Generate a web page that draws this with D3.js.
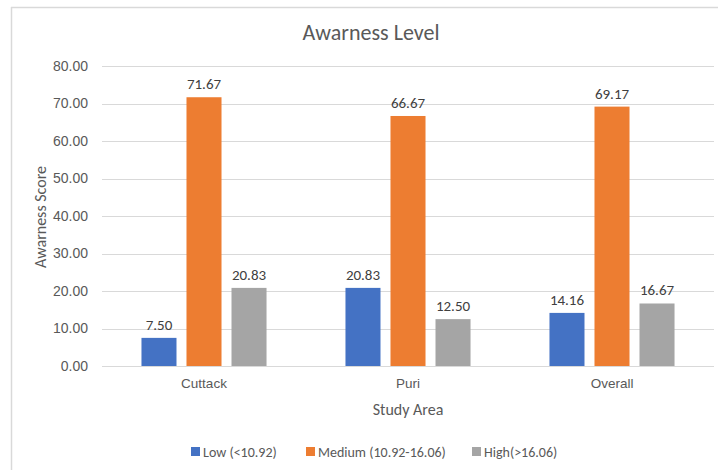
<!DOCTYPE html>
<html>
<head>
<meta charset="utf-8">
<script src="https://cdn.jsdelivr.net/npm/d3@7"></script>
<style>
  body { margin: 0; background: #fff; }
  svg { font-family: Calibri, Carlito, "Open Sans", sans-serif; }
</style>
</head>
<body>
<svg id="chart"></svg>
<script>
// Data
const categories = ['Cuttack', 'Puri', 'Overall'];
const seriesNames = ['Low (<10.92)', 'Medium (10.92-16.06)', 'High(>16.06)'];
const lowValues = [7.50, 20.83, 14.16];
const mediumValues = [71.67, 66.67, 69.17];
const highValues = [20.83, 12.50, 16.67];
const yTicks = [0, 10, 20, 30, 40, 50, 60, 70, 80];
const colors = ['#4472c4', '#ed7d31', '#a5a5a5'];

const width = 718, height = 470;
const margin = { top: 66, right: 4, bottom: 104, left: 102 };
const innerW = width - margin.left - margin.right;
const innerH = height - margin.top - margin.bottom;

const seriesValues = [lowValues, mediumValues, highValues];
const rows = [];
categories.forEach((c, i) => {
  seriesNames.forEach((s, j) => {
    rows.push({ cat: c, series: s, idx: j, value: seriesValues[j][i] });
  });
});

const svg = d3.select('#chart')
  .attr('width', width)
  .attr('height', height);

// outer frame (only top and left edges visible)
svg.append('line')
  .attr('x1', 11).attr('x2', width).attr('y1', 7.5).attr('y2', 7.5)
  .attr('stroke', '#d9d9d9').attr('stroke-width', 1.5);
svg.append('line')
  .attr('x1', 11.5).attr('x2', 11.5).attr('y1', 7).attr('y2', height)
  .attr('stroke', '#d9d9d9').attr('stroke-width', 1.5);

const g = svg.append('g')
  .attr('transform', `translate(${margin.left},${margin.top})`);

const x0 = d3.scaleBand()
  .domain(categories)
  .range([0, innerW])
  .paddingInner(0.387)
  .paddingOuter(0.1935);

const x1 = d3.scaleBand()
  .domain(seriesNames)
  .range([0, x0.bandwidth()])
  .paddingInner(0.222);

const y = d3.scaleLinear()
  .domain([0, 80])
  .range([innerH, 0]);

// gridlines
g.selectAll('.grid')
  .data(yTicks)
  .join('line')
  .attr('class', 'grid')
  .attr('x1', 0).attr('x2', innerW)
  .attr('y1', d => Math.round(y(d)) + 0.5)
  .attr('y2', d => Math.round(y(d)) + 0.5)
  .attr('stroke', '#d9d9d9')
  .attr('stroke-width', 1);

// y axis labels
const yAxis = d3.axisLeft(y)
  .tickValues(yTicks)
  .tickFormat(d3.format('.2f'))
  .tickSize(0)
  .tickPadding(14);
const yAxisG = g.append('g').call(yAxis);
yAxisG.select('.domain').remove();
yAxisG.selectAll('text')
  .attr('fill', '#595959')
  .style('font-size', '14px');

// x axis labels
const xAxis = d3.axisBottom(x0).tickSize(0).tickPadding(12);
const xAxisG = g.append('g')
  .attr('transform', `translate(0,${innerH})`)
  .call(xAxis);
xAxisG.select('.domain').remove();
xAxisG.selectAll('text')
  .attr('fill', '#595959')
  .style('font-size', '13.5px');

// bars
g.selectAll('.bar')
  .data(rows)
  .join('rect')
  .attr('class', 'bar')
  .attr('x', d => x0(d.cat) + x1(d.series))
  .attr('width', x1.bandwidth())
  .attr('y', d => y(d.value))
  .attr('height', d => innerH - y(d.value))
  .attr('fill', d => colors[d.idx]);

// value labels
g.selectAll('.val')
  .data(rows)
  .join('text')
  .attr('class', 'val')
  .attr('x', d => x0(d.cat) + x1(d.series) + x1.bandwidth() / 2)
  .attr('y', d => y(d.value) - 8)
  .attr('text-anchor', 'middle')
  .attr('fill', '#404040')
  .style('font-size', '15px')
  .text(d => d.value.toFixed(2));

// title
svg.append('text')
  .attr('x', 371)
  .attr('y', 40)
  .attr('text-anchor', 'middle')
  .attr('fill', '#595959')
  .style('font-size', '22px')
  .text('Awarness Level');

// axis titles
svg.append('text')
  .attr('x', 408)
  .attr('y', 415)
  .attr('text-anchor', 'middle')
  .attr('fill', '#595959')
  .style('font-size', '16px')
  .text('Study Area');

svg.append('text')
  .attr('transform', 'translate(46,217) rotate(-90)')
  .attr('text-anchor', 'middle')
  .attr('fill', '#595959')
  .style('font-size', '16px')
  .text('Awarness Score');

// legend
const legendX = [191, 306, 472];
const legend = svg.selectAll('.legend')
  .data(seriesNames)
  .join('g')
  .attr('class', 'legend')
  .attr('transform', (d, i) => `translate(${legendX[i]},452)`);
legend.append('rect')
  .attr('x', 0).attr('y', -5)
  .attr('width', 9).attr('height', 9)
  .attr('fill', (d, i) => colors[i]);
legend.append('text')
  .attr('x', 12)
  .attr('y', 5)
  .attr('fill', '#595959')
  .style('font-size', '14px')
  .text(d => d);
</script>
</body>
</html>
